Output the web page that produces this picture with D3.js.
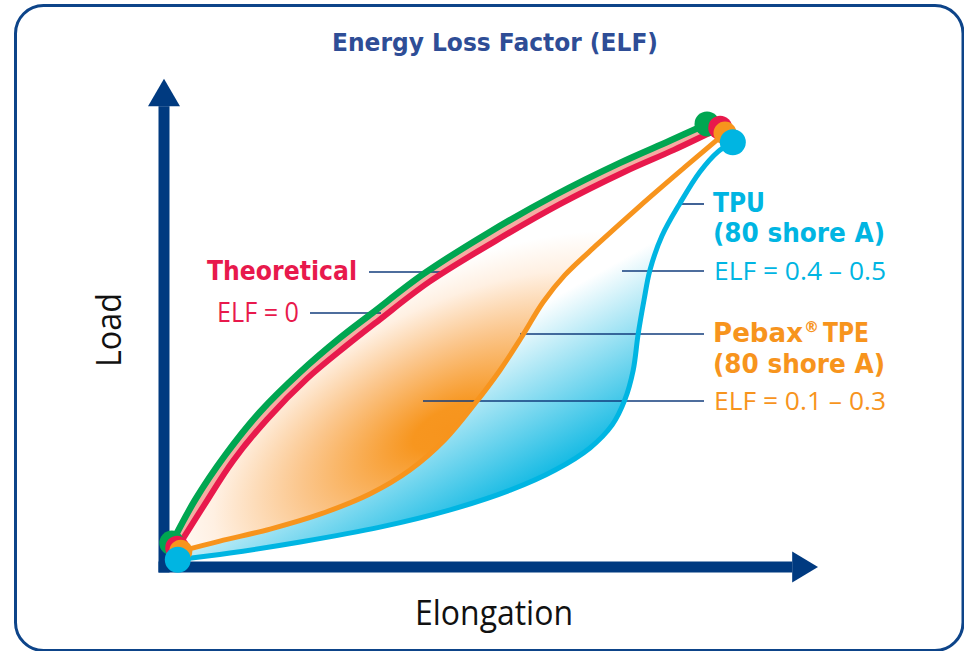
<!DOCTYPE html>
<html><head><meta charset="utf-8">
<script src="https://cdn.jsdelivr.net/npm/d3@7"></script>
<style>html,body{margin:0;padding:0;background:#fff;}svg{display:block;}</style>
</head><body>
<svg id="c" width="964" height="651"></svg>
<script>
// ---- data (Elongation %, Load %) ----
const theoreticalLoad = [[1.3,5.0],[5.2,14.0],[10.2,23.3],[16.0,32.3],[22.7,40.6],[29.3,47.7],[34.7,52.9],[43.2,61.0],[54.3,69.8],[65.2,77.5],[76.0,84.2],[84.3,88.8],[90.5,92.3]];
const theoreticalUnload = [[2.2,4.0],[6.7,12.9],[11.5,22.1],[17.2,30.8],[23.8,39.2],[30.3,46.0],[35.7,51.3],[44.2,59.4],[55.2,67.9],[66.0,75.6],[76.7,82.3],[85.0,86.9],[92.7,91.5]];
const pebaxUnload = [[2.8,3.3],[9.3,5.4],[17.7,7.9],[26.0,11.0],[34.3,15.2],[41.0,20.2],[46.8,26.5],[51.8,34.0],[56.0,41.0],[59.7,48.1],[63.2,55.2],[66.8,60.8],[72.3,67.3],[79.3,75.2],[86.8,83.3],[93.5,90.4]];
const tpuUnload = [[2.3,1.5],[11.0,2.9],[22.7,5.2],[36.0,8.3],[47.7,11.9],[57.7,16.0],[65.2,20.2],[71.0,24.8],[74.7,29.6],[76.8,34.8],[78.2,41.0],[79.0,48.3],[80.0,55.6],[81.0,61.9],[83.0,69.0],[86.0,75.8],[89.3,82.3],[92.3,86.5],[94.8,88.5]];
const seriesNames = ["Theoretical","Pebax","TPE","TPU"];
const shoreLabel = "(80 shore A)";
const elfLabels = ["ELF = 0","ELF = 0.1 – 0.3","ELF = 0.4 – 0.5"];
const axisTitles = {x:"Elongation", y:"Load"};
const chartTitle = "Energy Loss Factor (ELF)";

const C = {green:"#00a651", red:"#e8194c", orange:"#f7941d", blue:"#00b5e2", navy:"#003a80", title:"#2e4d96", pink:"#f5aca2"};

const svg = d3.select("#c");
const x = d3.scaleLinear().domain([0,100]).range([164,764]);
const y = d3.scaleLinear().domain([0,100]).range([567,87]);

// frame
svg.append("rect").attr("x",15.5).attr("y",5.5).attr("width",947.5).attr("height",645)
  .attr("rx",28).attr("fill","#fff").attr("stroke","#0d4489").attr("stroke-width",3);

// gradients
const defs = svg.append("defs");
const g1 = defs.append("radialGradient").attr("id","gOr").attr("gradientUnits","userSpaceOnUse")
  .attr("cx",0).attr("cy",0).attr("r",1).attr("gradientTransform","translate(448,428) rotate(-27) scale(320,150)");
g1.append("stop").attr("offset",0).attr("stop-color","#f7941d");
g1.append("stop").attr("offset",0.12).attr("stop-color","#f7961f");
g1.append("stop").attr("offset",0.5).attr("stop-color","#fbc68c");
g1.append("stop").attr("offset",0.8).attr("stop-color","#fff0e2");
g1.append("stop").attr("offset",1).attr("stop-color","#ffffff");
const g2 = defs.append("linearGradient").attr("id","gBl").attr("gradientUnits","userSpaceOnUse")
  .attr("x1",530).attr("y1",290).attr("x2",620).attr("y2",450);
g2.append("stop").attr("offset",0).attr("stop-color","#ffffff");
g2.append("stop").attr("offset",0.1).attr("stop-color","#ffffff");
g2.append("stop").attr("offset",1).attr("stop-color","#00b4e1");

// axes
const ax = svg.append("g").attr("fill",C.navy);
const x0 = x(0), y0 = y(0), hw = 5.5;
ax.append("rect").attr("x",x0-hw).attr("y",y(96)).attr("width",2*hw).attr("height",y0+hw-y(96));
ax.append("rect").attr("x",x0-hw).attr("y",y0-hw).attr("width",x(104.7)-(x0-hw)).attr("height",2*hw);
ax.append("path").attr("d",`M${x0-16},${y(96)} L${x0+16},${y(96)} L${x0},${y(101.7)} Z`);
ax.append("path").attr("d",`M${x(104.7)},${y0-15.5} L${x(104.7)},${y0+15.5} L${x(109)},${y0} Z`);

const line = d3.line().x(d=>x(d[0])).y(d=>y(d[1])).curve(d3.curveCatmullRom.alpha(0.5));
function band(a,b){ const p2 = line(b.slice().reverse()); return line(a) + "L" + p2.slice(1) + "Z"; }

svg.append("path").attr("d",band(pebaxUnload,tpuUnload)).attr("fill","url(#gBl)");
svg.append("path").attr("d",band(theoreticalUnload,pebaxUnload)).attr("fill","url(#gOr)");
svg.append("path").attr("d",band(theoreticalLoad,theoreticalUnload)).attr("fill",C.pink);

// leader lines
const leaders = [[[369,272],[440,272]],[[310,313],[381,313]],[[678,204],[704,204]],[[622,271],[704,271]],[[520,334],[704,334]],[[423,401],[704,401]]];
svg.append("g").selectAll("line").data(leaders).join("line")
  .attr("x1",d=>d[0][0]).attr("y1",d=>d[0][1]).attr("x2",d=>d[1][0]).attr("y2",d=>d[1][1])
  .attr("stroke","#123d7c").attr("stroke-width",1.6);

const curves = [[tpuUnload,C.blue,5],[pebaxUnload,C.orange,5],[theoreticalLoad,C.green,6.5],[theoreticalUnload,C.red,6]];
curves.forEach(([d,c,w])=>{
  svg.append("path").attr("d",line(d)).attr("fill","none").attr("stroke",c).attr("stroke-width",w).attr("stroke-linecap","round");
});
const dots = [[theoreticalLoad,C.green,12.5],[theoreticalUnload,C.red,12],[pebaxUnload,C.orange,11.5],[tpuUnload,C.blue,13]];
dots.forEach(([d,c,r])=>{
  [d[0], d[d.length-1]].forEach(p=>svg.append("circle").attr("cx",x(p[0])).attr("cy",y(p[1])).attr("r",r).attr("fill",c));
});

// text
const BOLD = "'DejaVu Sans', sans-serif", REG = "'Open Sans', sans-serif";
function txt(s, xx, yy, size, color, weight, len, anchor){
  const t = svg.append("text").attr("x",xx).attr("y",yy).attr("font-size",size).attr("fill",color)
    .attr("font-family", weight==="bold"?BOLD:REG).attr("font-weight",weight).attr("text-anchor",anchor||"start").text(s);
  if(len) t.attr("textLength",len).attr("lengthAdjust","spacingAndGlyphs");
  return t;
}
txt(chartTitle, 495, 51, 24, C.title, "bold", 326, "middle");
txt(seriesNames[0], 207, 280, 27, C.red, "bold", 150);
txt(elfLabels[0], 217, 322, 27, C.red, "normal", 82);
txt(seriesNames[3], 713, 212, 26, C.blue, "bold", 52);
txt(shoreLabel, 713, 242, 26, C.blue, "bold", 172);
txt(elfLabels[2], 714, 280, 26, C.blue, "normal", 172);
const pb = svg.append("text").attr("x",713).attr("y",342).attr("font-size",26).attr("fill",C.orange)
  .attr("font-family",BOLD).attr("font-weight","bold");
pb.append("tspan").text(seriesNames[1]).attr("textLength",90).attr("lengthAdjust","spacingAndGlyphs");
pb.append("tspan").text("®").attr("font-size",15).attr("dy",-10).attr("dx",1);
pb.append("tspan").text(seriesNames[2]).attr("dy",10).attr("x",823).attr("textLength",46).attr("lengthAdjust","spacingAndGlyphs");
txt(shoreLabel, 713, 373, 26, C.orange, "bold", 172);
txt(elfLabels[1], 714, 410, 26, C.orange, "normal", 172);

txt(axisTitles.x, 494, 625, 34, "#111", "normal", 158, "middle");
svg.append("text").attr("transform","translate(121,330) rotate(-90)").attr("text-anchor","middle")
  .attr("font-size",34).attr("font-family",REG).attr("fill","#111").attr("textLength",74)
  .attr("lengthAdjust","spacingAndGlyphs").text(axisTitles.y);
</script>
</body></html>
